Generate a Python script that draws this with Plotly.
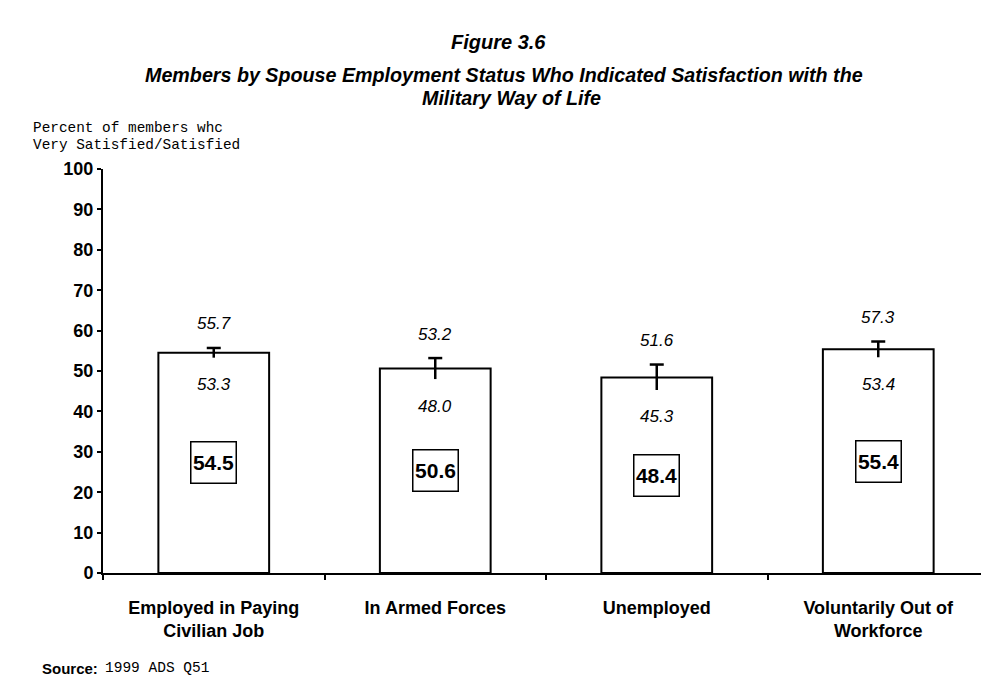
import plotly.graph_objects as go

categories = ["Employed in Paying<br>Civilian Job", "In Armed Forces", "Unemployed", "Voluntarily Out of<br>Workforce"]
values = [54.5, 50.6, 48.4, 55.4]
upper = [55.7, 53.2, 51.6, 57.3]
lower = [53.3, 48.0, 45.3, 53.4]
y_ticks = [0, 10, 20, 30, 40, 50, 60, 70, 80, 90, 100]

FONT = "Liberation Sans, Arial, sans-serif"
MONO = "Liberation Mono, Courier New, monospace"

# page has 8px body margin; figure placed at (8, 8)
OFF = 8
L, T, B = 103 - OFF, 169 - OFF, 116
W, H = 989 - OFF, 689 - OFF
PW = W - L

fig = go.Figure()
fig.add_trace(go.Bar(
    x=categories, y=values, width=0.5,
    marker=dict(color="white", line=dict(color="black", width=2)),
    showlegend=False, hoverinfo="skip",
))

ex, ey = [], []
for c, lo, hi in zip(categories, lower, upper):
    ex += [c, c, None]
    ey += [lo, hi, None]
fig.add_trace(go.Scatter(x=ex, y=ey, mode="lines", line=dict(color="black", width=2.5),
                         showlegend=False, hoverinfo="skip"))
fig.add_trace(go.Scatter(x=categories, y=upper, mode="markers",
                         marker=dict(symbol="line-ew", size=10, line=dict(color="black", width=2.5)),
                         showlegend=False, hoverinfo="skip"))

for c, v, lo, hi in zip(categories, values, lower, upper):
    fig.add_annotation(x=c, y=hi, text=f"<i>{hi:.1f}</i>", showarrow=False, yshift=24,
                       font=dict(family=FONT, size=17, color="black"))
    fig.add_annotation(x=c, y=lo, text=f"<i>{lo:.1f}</i>", showarrow=False, yshift=-27,
                       font=dict(family=FONT, size=17, color="black"))
    fig.add_annotation(x=c, y=v / 2, text=f"<b>{v:.1f}</b>", showarrow=False,
                       font=dict(family=FONT, size=21, color="black"),
                       bordercolor="black", borderwidth=1.5, borderpad=0,
                       width=44, height=40, bgcolor="white")

fig.update_layout(
    width=W, height=H,
    margin=dict(l=L, r=0, t=T, b=B, pad=0),
    paper_bgcolor="white", plot_bgcolor="white",
    xaxis=dict(type="category", tickson="boundaries", ticks="outside", ticklen=5,
               tickcolor="black", tickwidth=2, showline=True, linecolor="black", linewidth=2,
               showgrid=False, range=[-0.5, 3.5], ticklabelstandoff=17,
               tickvals=categories, ticktext=[f"<b>{c}</b>" for c in categories],
               tickfont=dict(family=FONT, size=18, color="black")),
    yaxis=dict(range=[0, 100], tickvals=y_ticks, ticktext=[f"<b>{t}</b>" for t in y_ticks],
               ticks="outside", ticklen=4, tickcolor="black", tickwidth=2,
               showline=True, linecolor="black", linewidth=2, showgrid=False, zeroline=False,
               tickfont=dict(family=FONT, size=18, color="black")),
)

def px_x(x):
    return (x - OFF - L) / PW

def top_shift(y):
    return T - (y - OFF)

fig.add_annotation(xref="paper", yref="paper", x=px_x(498), y=1, yanchor="middle",
                   yshift=top_shift(42), showarrow=False,
                   text="<b><i>Figure 3.6</i></b>", font=dict(family=FONT, size=20, color="black"))
fig.add_annotation(xref="paper", yref="paper", x=px_x(504), y=1, yanchor="middle",
                   yshift=top_shift(75), showarrow=False,
                   text="<b><i>Members by Spouse Employment Status Who Indicated Satisfaction with the</i></b>",
                   font=dict(family=FONT, size=19.7, color="black"))
fig.add_annotation(xref="paper", yref="paper", x=px_x(511), y=1, yanchor="middle",
                   yshift=top_shift(98), showarrow=False,
                   text="<b><i>Military Way of Life</i></b>", font=dict(family=FONT, size=19.7, color="black"))
fig.add_annotation(xref="paper", yref="paper", x=px_x(31), xanchor="left", y=1, yanchor="middle",
                   yshift=top_shift(128), showarrow=False, align="left",
                   text="Percent of members whc", font=dict(family=MONO, size=14.4, color="black"))
fig.add_annotation(xref="paper", yref="paper", x=px_x(31), xanchor="left", y=1, yanchor="middle",
                   yshift=top_shift(145), showarrow=False, align="left",
                   text="Very Satisfied/Satisfied", font=dict(family=MONO, size=14.4, color="black"))
fig.add_annotation(xref="paper", yref="paper", x=px_x(40), xanchor="left", y=1, yanchor="middle",
                   yshift=top_shift(668), showarrow=False, align="left",
                   text="<b>Source:</b>", font=dict(family=FONT, size=15, color="black"))
fig.add_annotation(xref="paper", yref="paper", x=px_x(103), xanchor="left", y=1, yanchor="middle",
                   yshift=top_shift(668), showarrow=False, align="left",
                   text="1999 ADS Q51", font=dict(family=MONO, size=14.5, color="black"))

fig.write_html("out.html")
